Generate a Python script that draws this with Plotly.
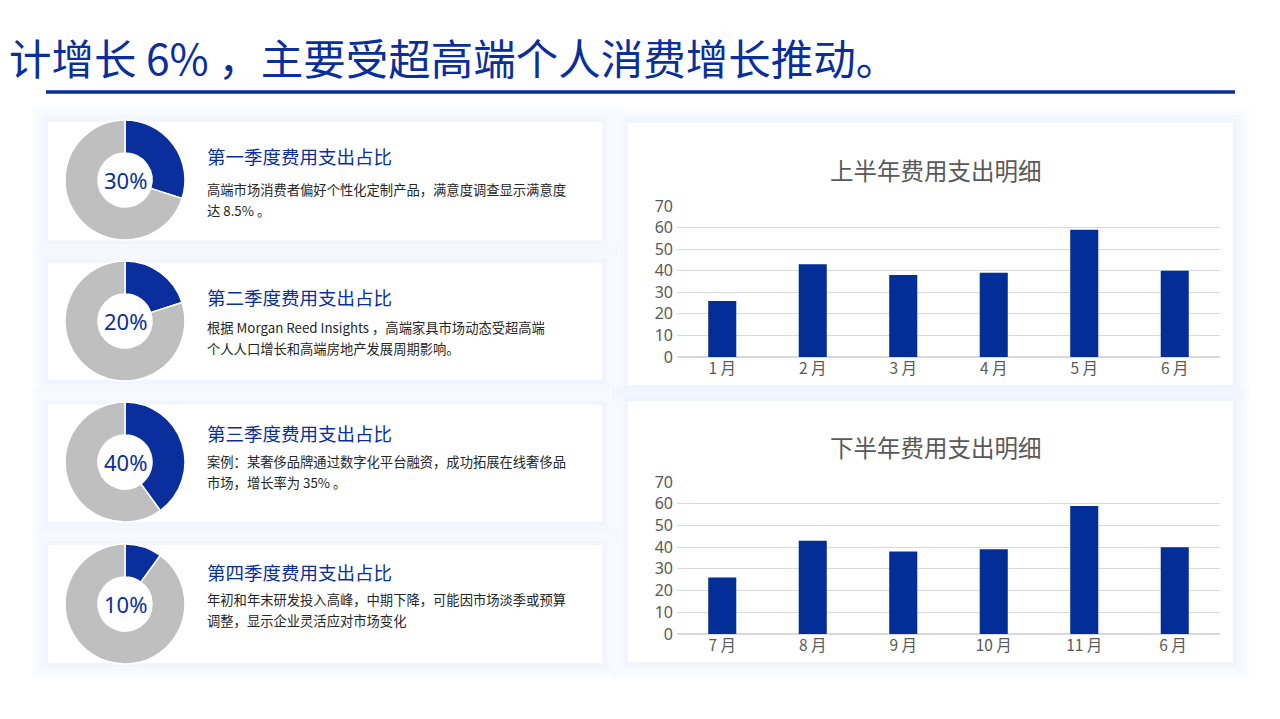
import plotly.graph_objects as go

W, H = 1280, 719
OFF = 8  # page body margin compensation

# ---------------- data ----------------
page_title = "计增长 6% ，主要受超高端个人消费增长推动。"

quarter_titles = ["第一季度费用支出占比", "第二季度费用支出占比", "第三季度费用支出占比", "第四季度费用支出占比"]
quarter_share = [30, 20, 40, 10]
quarter_desc = [
    ["高端市场消费者偏好个性化定制产品，满意度调查显示满意度", "达 8.5% 。"],
    ["根据 Morgan Reed Insights ，高端家具市场动态受超高端", "个人人口增长和高端房地产发展周期影响。"],
    ["案例：某奢侈品牌通过数字化平台融资，成功拓展在线奢侈品", "市场，增长率为 35% 。"],
    ["年初和年末研发投入高峰，中期下降，可能因市场淡季或预算", "调整，显示企业灵活应对市场变化"],
]
quarter_direction = ["counterclockwise", "counterclockwise", "counterclockwise", "clockwise"]

h1_title = "上半年费用支出明细"
h1_months = ["1 月", "2 月", "3 月", "4 月", "5 月", "6 月"]
h1_values = [26, 43, 38, 39, 59, 40]

h2_title = "下半年费用支出明细"
h2_months = ["7 月", "8 月", "9 月", "10 月", "11 月", "6 月 "]
h2_values = [26, 43, 38, 39, 59, 40]

y_ticks = [0, 10, 20, 30, 40, 50, 60, 70]

# ---------------- style ----------------
BLUE = "#0A2F9C"
BAR_BLUE = "#032E97"
GRAY = "#BFBFBF"
CJK = "Noto Sans CJK SC, Noto Sans, sans-serif"


def px(x):
    return (x - OFF) / W


def py(y):
    return 1 - (y - OFF) / H


fig = go.Figure()
shapes = []
annotations = []


def card(x0, y0, x1, y1):
    for pad, op in [(16, 0.10), (12, 0.12), (8, 0.16), (4, 0.22)]:
        shapes.append(dict(type="rect", xref="paper", yref="paper",
                           x0=px(x0 - pad), x1=px(x1 + pad), y0=py(y1 + pad), y1=py(y0 - pad),
                           fillcolor=f"rgba(228,235,252,{op})", line=dict(width=0), layer="below"))
    shapes.append(dict(type="rect", xref="paper", yref="paper",
                       x0=px(x0), x1=px(x1), y0=py(y1), y1=py(y0),
                       fillcolor="white", line=dict(width=0), layer="below"))


# title + rule
annotations.append(dict(text=page_title, x=0, y=py(56), xref="paper", yref="paper",
                        xanchor="left", yanchor="middle", showarrow=False, borderpad=0,
                        font=dict(family=CJK, size=42.5, color=BLUE)))
shapes.append(dict(type="line", xref="paper", yref="paper", x0=px(46), x1=px(1235),
                   y0=py(92), y1=py(92), line=dict(color=BLUE, width=3.5)))

# quarter cards
card_tops = [122, 263, 405, 545]
card_bots = [240, 380, 522, 663]
centers = [180, 321, 462, 604]
title_y = [156, 297, 433, 572]
desc_y = [190, 327, 461, 599]
R = 60
for i in range(4):
    card(48, card_tops[i], 602, card_bots[i])
    cy = centers[i]
    fig.add_trace(go.Pie(
        values=[quarter_share[i], 100 - quarter_share[i]],
        labels=["占比", "其他"],
        hole=0.45, sort=False, direction=quarter_direction[i], rotation=0,
        marker=dict(colors=[BLUE, GRAY], line=dict(color="white", width=1.5)),
        textinfo="none", hoverinfo="skip", showlegend=False, automargin=False,
        domain=dict(x=[px(125 - R), px(125 + R)], y=[py(cy + R), py(cy - R)]),
    ))
    annotations.append(dict(text=f"{quarter_share[i]}%", x=px(125), y=py(cy), xref="paper", yref="paper",
                            xanchor="center", yanchor="middle", showarrow=False,
                            font=dict(family="Noto Sans, sans-serif", size=22, color=BLUE)))
    annotations.append(dict(text=quarter_titles[i], x=px(205), y=py(title_y[i]), xref="paper", yref="paper",
                            xanchor="left", yanchor="middle", showarrow=False,
                            font=dict(family=CJK, size=18.5, color=BLUE)))
    for j, line in enumerate(quarter_desc[i]):
        annotations.append(dict(text=line, x=px(205), y=py(desc_y[i] + 21 * j), xref="paper", yref="paper",
                                xanchor="left", yanchor="middle", showarrow=False,
                                font=dict(family=CJK, size=13.3, color="#262626")))

# bar panels
panels = [
    dict(top=123, bot=385, title=h1_title, title_y=170, y70=206, y0=357, cats=h1_months, vals=h1_values),
    dict(top=401, bot=662, title=h2_title, title_y=447, y70=482, y0=634, cats=h2_months, vals=h2_values),
]
for k, p in enumerate(panels):
    card(628, p["top"], 1233, p["bot"])
    sfx = "" if k == 0 else "2"
    fig.add_trace(go.Bar(x=p["cats"], y=p["vals"], marker=dict(color=BAR_BLUE, line=dict(width=0)),
                         width=0.31, xaxis="x" + sfx, yaxis="y" + sfx, showlegend=False, hoverinfo="skip"))
    annotations.append(dict(text=p["title"], x=px(936), y=py(p["title_y"]), xref="paper", yref="paper",
                            xanchor="center", yanchor="middle", showarrow=False,
                            font=dict(family=CJK, size=23.5, color="#595959")))
    xa = dict(domain=[px(677), px(1220)], anchor="y" + sfx, showgrid=False, zeroline=False,
              showline=False, ticks="", tickfont=dict(family=CJK, size=15.5, color="#595959"),
              type="category", automargin=False)
    ya = dict(domain=[py(p["y0"]), py(p["y70"])], anchor="x" + sfx, range=[0, 70],
              tickvals=y_ticks, showgrid=True, gridcolor="#D9D9D9", gridwidth=1,
              zeroline=True, zerolinecolor="#D9D9D9", zerolinewidth=1.5, showline=False,
              tickfont=dict(family="Noto Sans, sans-serif", size=16, color="#595959"),
              ticklabelstandoff=3, automargin=False)
    if k == 0:
        fig.update_layout(xaxis=xa, yaxis=ya)
    else:
        fig.update_layout(xaxis2=xa, yaxis2=ya)

fig.update_layout(
    width=W, height=H, margin=dict(l=0, r=0, t=0, b=0, autoexpand=False),
    paper_bgcolor="white", plot_bgcolor="rgba(0,0,0,0)", showlegend=False,
    shapes=shapes, annotations=annotations, bargap=0.69,
)

fig.write_html("out.html")
